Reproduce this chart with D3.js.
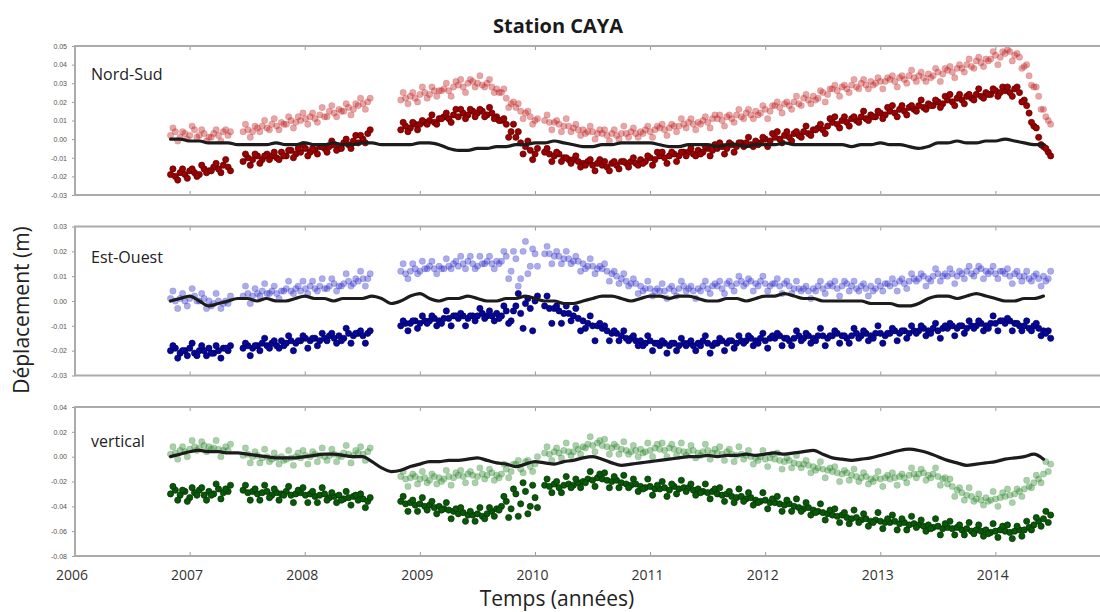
<!DOCTYPE html>
<html>
<head>
<meta charset="utf-8">
<script src="https://cdn.jsdelivr.net/npm/d3@7"></script>
<style>
  body { margin: 0; background: #fff; }
  svg { display: block; }
</style>
</head>
<body>
<svg id="chart" width="1100" height="612"></svg>
<script>
// GPS station CAYA. Positions are sampled twice per half month (values in mm):
// the first list of each series holds the solutions at the start of each step,
// the second list the solutions one week later. Four continuous segments
// separated by data gaps.
const segmentStarts = [2006.83, 2007.46, 2008.83, 2010.08];
const sampleStep = 1 / 24;
const secondOffset = 1 / 48;
// Modelled displacement (black curve), one value per month (mm)
const lineStart = 2006.83;
const lineStep = 1 / 12;

const years = [2006, 2007, 2008, 2009, 2010, 2011, 2012, 2013, 2014];
const nsTicks = [0.05, 0.04, 0.03, 0.02, 0.01, 0.00, -0.01, -0.02, -0.03];
const ewTicks = [0.03, 0.02, 0.01, 0.00, -0.01, -0.02, -0.03];
const upTicks = [0.04, 0.02, 0.00, -0.02, -0.04, -0.06, -0.08];

// ---- Nord-Sud ----
const nsRaw = [
  [-19,-20,-18,-19,-17,-18,-19,-16,-17,-15,-16,-14,-15],
  [-12,-10,-11,-9,-11,-8,-9,-10,-7,-9,-6,-8,-7,-5,-7,-6,-4,-5,-4,-3,-5,-2,-3,-1,-2,0,3],
  [5,7,6,8,8,9,10,9,11,12,11,13,12,14,13,15,14,15,13,14,12,10,8,4,1,-2,-4,-6,-8],
  [-7,-8,-9,-8,-10,-11, -11,-12,-13,-12,-14,-13, -14,-15,-13,-14,-12,-13, -12,-13,-11,-12,-10,-11,
   -9,-10,-9,-8,-9,-7, -7,-8,-6,-7,-5,-6, -5,-4,-5,-3,-4,-2, -2,-3,-1,-2,0,-1,
   1,0,2,1,3,2, 4,3,5,6,5,7, 9,8,10,9,11,10, 12,11,13,12,14,13, 15,14,16,15,17,16,
   18,17,19,18,20,19, 21,20,22,21,23,22, 24,23,25,24,26,25, 26,25,27,25, 21,14,7,1,-4,-7]
];
const nsRaw2 = [
  [-16,-22,-16,-21,-16,-20,-14,-18,-17,-13,-18,-11,-17],
  [-8,-14,-8,-13,-9,-11,-7,-11,-9,-6,-10,-5,-3,-9,-5,-8,-4,-7,-1,-6,-5,0,-5,2,2,-2,5],
  [9,4,9,5,10,8,13,8,11,14,9,16,16,11,16,12,16,12,17,11,10,11,1,8,4,-8,-1,-11,-5],
  [-5,-12,-7,-12,-10,-13, -9,-15,-14,-11,-17,-11, -12,-17,-12,-16,-12,-15, -10,-14,-13,-9,-14,-7,
   -7,-13,-7,-12,-7,-9, -5,-9,-8,-4,-9,-3, -2,-8,-2,-7,-2,-4, 1,-4,-3,1,-4,3,
   4,-2,4,-1,4,1, 7,2,5,8,3,11, 12,6,12,7,12,9, 15,10,12,15,11,17, 18,12,18,13,18,15,
   21,16,18,21,17,23, 24,18,24,19,24,21, 27,22,24,27,23,28, 28,23,28,20, 18,9,6,-3,-5,-9]
];
const nsCorr = [
  [2,4,1,3,2,5,2,3,1,3,2,4,2],
  [4,5,4,6,7,6,8,7,9,8,10,9,10,11,12,11,13,12,15,14,16,15,17,16,18,19,20],
  [21,22,23,22,24,25,24,26,26,27,26,28,29,28,30,31,30,29,30,28,27,25,22,19,17,15,14,12,10],
  [10,9,9,8,7,7, 6,5,5,4,4,3, 3,2,3,2,3,3, 4,3,4,5,4,5, 6,5,6,7,7,8, 9,8,9,10,9,11,
   11,10,12,11,13,12, 14,13,15,14,16,15, 18,17,19,18,20,19, 22,21,23,22,25,24,
   27,26,28,27,29,28, 30,29,31,30,31,31, 32,31,33,32,34,33, 34,33,35,34,36,35,
   37,36,38,38,40,39, 42,41,43,43,45,44, 46,47,45,44, 39,34,28,23,16,10]
];
const nsCorr2 = [
  [6,-1,4,0,7,1,5,-1,1,5,-1,5,4],
  [8,1,7,4,10,5,11,5,8,12,6,12,14,8,14,9,17,12,18,12,15,19,13,19,22,16,22],
  [25,19,25,20,28,22,28,23,26,30,23,31,32,25,32,28,34,28,32,25,25,27,17,20,19,11,15,8,11],
  [13,5,10,4,11,4, 8,2,3,7,0,5, 5,-1,5,0,7,1, 6,1,3,7,1,7, 8,2,8,4,11,6, 11,5,8,12,6,13,
   13,7,13,9,16,11, 16,11,13,18,11,18, 20,14,20,16,23,18, 24,19,21,26,20,27,
   29,23,29,25,32,27, 32,27,29,33,27,33, 34,28,34,30,37,31, 36,31,33,38,31,38,
   39,33,40,36,43,38, 44,39,42,47,40,47, 48,42,46,38, 40,29,28,16,12,8]
];
const nsModel = [0,0,-1,-1,-2,-2,-2,-3,-3,-3, -3,-2,-3,-3,-2,-3,-3,-2,-3,-3,
  -2,-2,-3,-3,-3,-3,-2,-2,-3,-5, -6,-6,-5,-5,-4,-4,-3,-3,-2,-2,
  -1,-2,-3,-4,-4,-3,-3,-2,-2,-2, -2,-3,-4,-4,-3,-3,-3,-4,-3,-3,
  -4,-3,-3,-3,-2,-3,-3,-3,-3,-3, -3,-4,-3,-3,-2,-3,-3,-4,-5,-4,
  -2,-2,-1,-2,-2,-1,-1,0,-1,-2, -3,-3];

// ---- Est-Ouest ----
const ewRaw = [
  [-20,-19,-21,-20,-19,-21,-20,-20,-19,-21,-20,-19,-20],
  [-19,-18,-19,-18,-17,-18,-17,-18,-16,-17,-16,-17,-16,-15,-16,-15,-16,-15,-14,-15,-14,-15,-13,-14,-13,-14,-13],
  [-10,-9,-9,-8,-9,-8,-8,-7,-8,-7,-7,-6,-7,-6,-7,-6,-6,-5,-6,-6,-5,-6,-4,-8,-2,-5,-1,-3,0],
  [-2,-3,-3,-4,-5,-5, -6,-7,-8,-9,-10,-10, -11,-12,-13,-13,-14,-15, -15,-16,-16,-17,-16,-17,
   -18,-17,-18,-17,-18,-17, -17,-18,-17,-16,-17,-18, -17,-16,-17,-16,-17,-16,
   -16,-15,-16,-15,-16,-15, -15,-14,-15,-16,-15,-14, -15,-14,-15,-14,-14,-15,
   -14,-13,-14,-15,-14,-13, -14,-13,-14,-13,-13,-14, -13,-12,-13,-12,-13,-12,
   -12,-11,-12,-11,-12,-11, -11,-10,-11,-10,-11,-10, -10,-9,-10,-9,-9,-8,
   -9,-8,-9,-10, -10,-11,-10,-11,-12,-12]
];
const ewRaw2 = [
  [-18,-23,-20,-22,-17,-22,-18,-22,-21,-18,-23,-19,-18],
  [-17,-22,-18,-20,-15,-19,-16,-19,-18,-14,-20,-16,-14,-19,-15,-18,-13,-16,-13,-17,-16,-11,-17,-13,-12,-17,-12],
  [-8,-12,-8,-11,-6,-9,-6,-10,-9,-4,-10,-6,-5,-10,-6,-8,-3,-7,-4,-8,-7,-2,-9,-4,3,-11,1,-12,2],
  [2,-9,-2,-9,-2,-8, -3,-12,-11,-6,-16,-9, -10,-16,-12,-16,-12,-16, -14,-18,-18,-14,-20,-17,
   -16,-21,-17,-20,-15,-18, -16,-20,-18,-14,-21,-17, -15,-20,-16,-19,-14,-17, -14,-18,-17,-13,-19,-14,
   -13,-18,-15,-18,-12,-16, -13,-17,-16,-11,-18,-14, -12,-17,-14,-17,-11,-15, -12,-16,-15,-10,-17,-13,
   -11,-16,-12,-15,-10,-13, -10,-14,-13,-9,-15,-10, -9,-14,-10,-13,-8,-11, -8,-12,-11,-6,-12,-8,
   -7,-12,-9,-12, -8,-12,-9,-14,-13,-15]
];
const ewCorr = [
  [1,0,1,0,1,2,0,1,0,-1,0,-1,-1],
  [2,3,2,3,4,3,4,3,4,5,4,5,4,5,6,5,6,5,6,7,6,7,8,7,8,9,9],
  [12,11,12,13,12,13,14,13,14,13,14,15,14,15,16,15,14,15,16,15,16,16,18,12,17,9,24,14,19],
  [19,19,18,18,17,17, 16,16,15,14,14,13, 13,12,11,10,9,8, 7,7,6,5,5,4, 4,4,5,4,5,6,
   5,4,5,6,5,6, 6,5,7,6,7,8, 7,8,7,8,7,6, 7,6,7,6,5,5, 5,4,5,6,5,6,
   6,5,6,7,6,5, 6,5,6,5,6,7, 6,7,8,7,8,9, 9,10,9,10,11,10, 10,11,10,11,12,11,
   12,13,12,12,11,12, 11,10,11,10, 10,9,10,9,10,9]
];
const ewCorr2 = [
  [4,-3,3,-2,5,0,3,-3,-2,3,-3,0,2],
  [6,-1,5,2,7,3,6,1,4,8,3,6,8,3,8,4,9,5,9,4,6,11,6,9,12,6,11],
  [15,9,15,11,16,13,16,11,13,17,13,16,18,13,18,13,18,15,18,13,15,20,9,20,6,20,11,21,14],
  [22,15,20,15,20,15, 18,12,13,17,11,14, 15,8,12,7,11,6, 9,3,4,8,2,5, 7,1,6,2,8,4, 6,1,4,8,3,7,
   8,3,8,4,10,6, 9,4,6,10,4,7, 9,3,8,3,8,4, 6,1,4,8,3,7, 8,2,8,4,8,4, 7,2,4,8,4,7,
   9,4,9,5,11,8, 11,6,8,13,8,11, 13,7,12,9,14,10, 14,9,11,14,9,12, 13,7,12,8, 12,8,11,6,8,12]
];
const ewModel = [0,1,2,0,-2,-1,0,1,1,0, 1,0,0,1,2,1,1,0,1,1,
  1,2,1,-1,0,2,3,1,0,1, 1,2,1,0,0,1,1,2,1,0,
  0,-1,-1,0,1,2,2,1,0,1, 2,2,1,2,2,1,0,0,1,1,
  0,1,2,2,3,2,1,1,0,0, 0,0,0,-1,-1,-1,-2,-2,-1,1,
  2,2,1,2,3,2,1,0,0,1, 1,2];

// ---- Vertical ----
const upRaw = [
  [-30,-27,-31,-28,-33,-29,-27,-31,-28,-30,-26,-29,-28],
  [-27,-29,-28,-30,-29,-28,-31,-29,-30,-28,-31,-30,-29,-31,-30,-32,-31,-30,-33,-32,-31,-34,-33,-32,-35,-34,-36],
  [-36,-38,-37,-39,-38,-40,-39,-41,-40,-42,-43,-44,-46,-45,-47,-47,-46,-48,-46,-44,-42,-40,-36,-42,-30,-38,-28,-40,-33],
  [-23,-24,-22,-25,-23,-22, -23,-21,-20,-18,-19,-17, -18,-19,-20,-19,-21,-22, -23,-22,-24,-25,-24,-26,
   -26,-25,-27,-24,-26,-25, -25,-27,-26,-28,-29,-28, -30,-31,-30,-32,-33,-32,
   -34,-33,-35,-36,-35,-37, -37,-38,-39,-38,-40,-41, -42,-41,-43,-44,-45,-46,
   -47,-48,-47,-49,-50,-49, -51,-50,-52,-51,-52,-53, -53,-52,-54,-53,-55,-54,
   -55,-56,-55,-57,-56,-58, -57,-58,-57,-59,-58,-60, -59,-60,-59,-61,-60,-59,
   -60,-61,-60,-59, -59,-57,-55,-52,-50,-53]
];
const upRaw2 = [
  [-24,-35,-27,-36,-25,-31,-25,-35,-31,-22,-34,-26,-23],
  [-23,-35,-26,-35,-23,-33,-26,-35,-31,-24,-37,-27,-25,-37,-28,-37,-25,-35,-29,-37,-35,-28,-39,-31,-30,-41,-33],
  [-32,-44,-35,-44,-33,-43,-36,-46,-43,-37,-50,-42,-41,-52,-44,-52,-41,-50,-41,-48,-43,-32,-49,-26,-48,-21,-46,-23,-41],
  [-18,-29,-20,-29,-16,-25, -18,-25,-21,-12,-24,-14, -13,-25,-16,-25,-15,-25, -18,-28,-26,-18,-31,-23,
   -20,-32,-22,-30,-19,-28, -22,-31,-29,-22,-34,-26, -25,-36,-28,-37,-26,-36, -29,-39,-37,-29,-42,-34,
   -32,-44,-35,-44,-34,-44, -37,-47,-45,-38,-51,-43, -42,-53,-45,-54,-43,-53, -46,-56,-53,-45,-58,-50,
   -47,-59,-50,-59,-48,-57, -51,-60,-58,-50,-63,-54, -52,-63,-55,-63,-53,-62, -55,-64,-62,-54,-65,-56,
   -55,-66,-56,-64, -52,-59,-49,-56,-44,-47]
];
const upCorr = [
  [2,3,5,4,6,8,7,9,8,7,6,5,5],
  [1,2,0,1,-1,0,-2,-1,0,-2,-1,0,-1,1,0,2,1,0,1,2,1,3,2,1,3,2,4],
  [-16,-18,-17,-16,-18,-17,-19,-16,-17,-18,-16,-17,-15,-16,-14,-15,-16,-14,-15,-13,-15,-14,-10,-12,-6,-10,-4,-8,-6],
  [3,2,4,3,5,4, 4,6,8,10,9,11, 9,8,7,8,6,5, 4,5,6,4,5,7, 6,5,7,6,5,4, 4,5,3,4,5,3,
   3,2,4,2,1,2, 1,0,-1,0,-2,-1, -2,-3,-4,-3,-5,-6, -6,-7,-8,-9,-10,-11,
   -12,-13,-14,-13,-15,-16, -17,-16,-18,-17,-18,-17, -18,-17,-16,-17,-15,-14,
   -14,-13,-15,-14,-16,-18, -22,-24,-27,-29,-31,-32, -34,-35,-33,-35,-34,-33,
   -32,-31,-30,-28, -26,-24,-21,-18,-14,-12]
];
const upCorr2 = [
  [8,-2,8,0,13,5,12,4,6,13,0,8,10],
  [7,-5,4,-5,6,-4,3,-6,-3,5,-7,3,5,-6,4,-4,7,-3,6,-4,0,9,-5,5,8,-3,7],
  [-12,-24,-14,-22,-12,-21,-14,-22,-20,-11,-23,-13,-11,-21,-12,-21,-9,-18,-10,-19,-17,-6,-17,-6,-3,-13,-3,-12,0],
  [8,-3,7,-1,11,1, 9,2,7,16,4,13, 14,2,10,2,12,2, 9,0,3,11,0,10, 11,0,10,1,11,1, 9,-1,1,10,-2,6,
   8,-3,6,-4,8,-2, 5,-6,-3,5,-8,2, 3,-10,-1,-9,1,-9, -3,-13,-11,-4,-17,-9, -8,-20,-11,-19,-10,-20,
   -13,-22,-20,-12,-24,-15, -13,-23,-14,-21,-9,-17, -10,-19,-17,-9,-23,-17, -18,-32,-25,-35,-25,-36,
   -30,-39,-36,-28,-40,-29, -26,-37,-26,-32, -19,-25,-15,-21,-4,-6]
];
const upModel = [0,2,4,5,4,4,3,3,2,1, 0,-1,-1,-1,0,1,2,2,1,0,
  0,-4,-9,-12,-11,-8,-6,-4,-4,-3, -3,-2,-1,-3,-5,-6,-8,-6,-4,-5,
  -6,-4,-3,-1,0,-2,-5,-7,-6,-5, -4,-3,-2,-1,0,0,1,0,1,1,
  2,1,2,3,2,3,4,5,2,-1, -2,-3,-2,-1,1,3,5,6,5,3,
  0,-3,-5,-7,-6,-5,-4,-2,-1,0, 2,-2];

const panels = [
  { name: "Nord-Sud",  raw: [nsRaw, nsRaw2], corr: [nsCorr, nsCorr2], model: nsModel, ticks: nsTicks,
    domain: [-0.03, 0.05], top: 46,    labelY: 80,  dark: "#9c0000", light: "#c02020" },
  { name: "Est-Ouest", raw: [ewRaw, ewRaw2], corr: [ewCorr, ewCorr2], model: ewModel, ticks: ewTicks,
    domain: [-0.03, 0.03], top: 226.5, labelY: 263, dark: "#06069a", light: "#3030cc" },
  { name: "vertical",  raw: [upRaw, upRaw2], corr: [upCorr, upCorr2], model: upModel, ticks: upTicks,
    domain: [-0.08, 0.04], top: 407,   labelY: 447, dark: "#085808", light: "#2a882a" }
];

const left = 75, right = 1111, panelH = 149;
const x = d3.scaleLinear().domain([2006, 2015]).range([left, right]);
const svg = d3.select("#chart");
const FONT = "'Open Sans', 'DejaVu Sans', sans-serif";

// flatten [first, second] sample lists into {t, v} points (v in metres)
function toPoints(pair) {
  const pts = [];
  pair.forEach((segs, k) => {
    const shift = k === 0 ? 0 : secondOffset;
    segs.forEach((vals, s) => vals.forEach((v, i) =>
      pts.push({ t: segmentStarts[s] + i * sampleStep + shift, v: v / 1000 })));
  });
  return pts;
}

panels.forEach((p, pi) => {
  const y = d3.scaleLinear().domain(p.domain).range([p.top + panelH, p.top]);
  const g = svg.append("g");
  const clipId = "clip" + pi;
  svg.append("clipPath").attr("id", clipId)
    .append("rect").attr("x", left).attr("y", p.top).attr("width", right - left).attr("height", panelH);

  // year ticks on top and bottom edges
  const xt = g.append("g").attr("stroke", "#9a9a9a").attr("stroke-width", 1);
  years.forEach(yr => {
    xt.append("line").attr("x1", x(yr)).attr("x2", x(yr)).attr("y1", p.top).attr("y2", p.top + 4);
    xt.append("line").attr("x1", x(yr)).attr("x2", x(yr)).attr("y1", p.top + panelH).attr("y2", p.top + panelH - 4);
  });

  // y axis
  const yAxis = d3.axisLeft(y).tickValues(p.ticks).tickSize(3).tickPadding(5)
    .tickFormat(d => d3.format(".2f")(d).replace("\u2212", "-"));
  const ya = g.append("g").attr("transform", `translate(${left},0)`).call(yAxis);
  ya.select(".domain").remove();
  ya.selectAll(".tick line").attr("stroke", "#9a9a9a");
  ya.selectAll(".tick text").attr("fill", "#555").attr("font-size", 7)
    .attr("font-family", "'Liberation Sans', Arial, sans-serif");

  const data = g.append("g").attr("clip-path", `url(#${clipId})`);

  // corrected series (pale, semi-transparent)
  data.append("g").selectAll("circle").data(toPoints(p.corr)).join("circle")
    .attr("cx", d => x(d.t)).attr("cy", d => y(d.v)).attr("r", 3.2)
    .attr("fill", p.light).attr("fill-opacity", 0.4)
    .attr("stroke", p.light).attr("stroke-opacity", 0.25).attr("stroke-width", 0.6);

  // raw series (dark)
  data.append("g").selectAll("circle").data(toPoints(p.raw)).join("circle")
    .attr("cx", d => x(d.t)).attr("cy", d => y(d.v)).attr("r", 3.1)
    .attr("fill", p.dark)
    .attr("stroke", d3.color(p.dark).darker(1.6)).attr("stroke-width", 0.7);

  // model curve
  const line = d3.line().x(d => x(d.t)).y(d => y(d.v)).curve(d3.curveMonotoneX);
  const modelPts = p.model.map((v, k) => ({ t: lineStart + k * lineStep, v: v / 1000 }));
  data.append("path").datum(modelPts).attr("d", line)
    .attr("fill", "none").attr("stroke", "#1c1c1c").attr("stroke-width", 3.2)
    .attr("stroke-linejoin", "round").attr("stroke-linecap", "round");

  // frame
  g.append("rect").attr("x", left).attr("y", p.top).attr("width", right - left).attr("height", panelH)
    .attr("fill", "none").attr("stroke", "#ababab").attr("stroke-width", 2);

  // panel label
  g.append("text").attr("x", 91).attr("y", p.labelY).text(p.name)
    .attr("font-family", FONT).attr("font-size", 16).attr("fill", "#222");
});

// x tick labels under the last panel
svg.append("g").selectAll("text").data(years).join("text")
  .attr("x", d => x(d) - 3).attr("y", 580).attr("text-anchor", "middle")
  .attr("font-family", FONT).attr("font-size", 14).attr("fill", "#333")
  .text(d => d);

// titles
svg.append("text").attr("x", 558).attr("y", 33).attr("text-anchor", "middle")
  .attr("font-family", FONT).attr("font-weight", "bold").attr("font-size", 20).attr("fill", "#1a1a1a")
  .text("Station CAYA");
svg.append("text").attr("x", 557).attr("y", 606).attr("text-anchor", "middle")
  .attr("font-family", FONT).attr("font-size", 21).attr("fill", "#222")
  .text("Temps (années)");
svg.append("text").attr("transform", "translate(29,310) rotate(-90)").attr("text-anchor", "middle")
  .attr("font-family", FONT).attr("font-size", 21).attr("fill", "#222")
  .text("Déplacement (m)");
</script>
</body>
</html>
